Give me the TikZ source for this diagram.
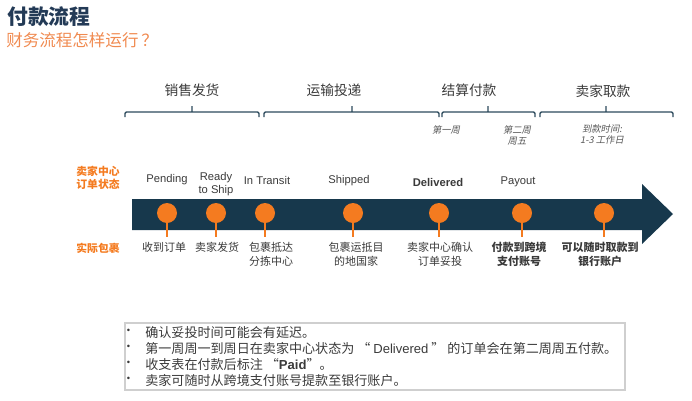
\documentclass[tikz,border=0pt]{standalone}
\usepackage{fontspec}
\setmainfont{Noto Sans CJK SC}
\newfontfamily\lat{Liberation Sans}
\newfontfamily\cjkit[FakeSlant=0.2]{Noto Sans CJK SC}
\usetikzlibrary{positioning}
\definecolor{bandnavy}{HTML}{17384C}
\definecolor{titlenavy}{HTML}{233A56}
\definecolor{payorange}{HTML}{F47B20}
\definecolor{suborange}{HTML}{F08A50}
\definecolor{brkteal}{HTML}{2C4A5C}
\definecolor{txtgray}{HTML}{3A3A3A}
\definecolor{boxgray}{HTML}{CFCFCF}
\newcommand{\bul}{\makebox[14.3pt][l]{\hspace{0.5pt}\raisebox{0.55ex}{\lat\scriptsize\textbullet}}}

\begin{document}
\begin{tikzpicture}[x=0.75pt, y=-0.75pt,
    lbl/.style={inner sep=0pt, align=center, text=txtgray},
    phase/.style={lbl, font=\fontsize{10.3}{12}\selectfont},
    status/.style={lbl, font=\lat\fontsize{8.4}{9.75}\selectfont},
    pkg/.style={lbl, font=\fontsize{8.25}{10.5}\selectfont},
    side/.style={lbl, text=payorange, font=\bfseries\fontsize{8.1}{9.75}\selectfont},
    when/.style={lbl, text=txtgray!85, font=\cjkit\fontsize{7}{8.25}\selectfont},
    dot/.style={circle, fill=payorange, minimum size=15pt, inner sep=0pt},
    stem/.style={draw=payorange, line width=1.5pt},
    brk/.style={draw=brkteal, line width=1.1pt, rounded corners=1pt}
  ]
  \useasboundingbox (0,0) rectangle (692,400);

  % title
  \node[anchor=west, inner sep=0pt, text=titlenavy, font=\bfseries\fontsize{15.6}{18}\selectfont] (title) at (7,17) {付款流程};
  \node[anchor=west, inner sep=0pt, text=suborange, font=\fontsize{12.4}{15}\selectfont] (subtitle) at (6,40) {财务流程怎样运行\,？};

  % phases
  \node[phase] (sales) at (192,90) {销售发货};
  \node[phase] (ship-ph) at (334,90) {运输投递};
  \node[phase] (settle) at (469,90) {结算付款};
  \node[phase] (withdraw) at (603,91) {卖家取款};

  \draw[brk] (125,117) -- (125,112) -- (259,112) -- (259,117) (192,112) -- (192,106);
  \draw[brk] (264,117) -- (264,112) -- (439,112) -- (439,117) (352,112) -- (352,106);
  \draw[brk] (442,117) -- (442,112) -- (535,112) -- (535,117) (488,112) -- (488,106);
  \draw[brk] (540,117) -- (540,112) -- (673,112) -- (673,117) (606,112) -- (606,106);

  \node[when] (wk1) at (446,130) {第一周};
  \node[when] (wk2) at (517,135) {第二周\\周五};
  \node[when] (days) at (602,134) {到款时间:\\1-3 工作日};

  % timeline arrow
  \fill[bandnavy] (132,199) -- (642,199) -- (642,184) -- (673,214) -- (642,244) -- (642,230) -- (132,230) -- cycle;

  \node[side] (side-st) at (98,178) {卖家中心\\订单状态};
  \node[side] (side-pk) at (98,248) {实际包裹};

  \node[status] (st-pend) at (167,180) {Pending};
  \node[status] (st-ready) at (216,184) {Ready\\to Ship};
  \node[status] (st-trans) at (267,180) {In Transit};
  \node[status] (st-ship) at (349,181) {Shipped};
  \node[status, font=\lat\bfseries\fontsize{8.4}{9.75}\selectfont] (st-deliv) at (438,182) {Delivered};
  \node[status] (st-pay) at (518,182) {Payout};

  \node[dot] (pend) at (167,213) {};
  \node[dot] (ready) at (216,213) {};
  \node[dot] (trans) at (265,213) {};
  \node[dot] (ship) at (353,213) {};
  \node[dot] (deliv) at (439,213) {};
  \node[dot] (pay) at (522,213) {};
  \node[dot] (cash) at (604,213) {};

  \coordinate (pend-s) at (167,237);
  \coordinate (ready-s) at (216,237);
  \coordinate (trans-s) at (265,237);
  \coordinate (ship-s) at (353,237);
  \coordinate (deliv-s) at (439,237);
  \coordinate (pay-s) at (522,237);
  \coordinate (cash-s) at (604,237);
  \draw[stem] (pend) -- (pend-s);
  \draw[stem] (ready) -- (ready-s);
  \draw[stem] (trans) -- (trans-s);
  \draw[stem] (ship) -- (ship-s);
  \draw[stem] (deliv) -- (deliv-s);
  \draw[stem] (pay) -- (pay-s);
  \draw[stem] (cash) -- (cash-s);

  \node[pkg, anchor=north] (pk-pend) at (164,242) {收到订单};
  \node[pkg, anchor=north] (pk-ready) at (217,242) {卖家发货};
  \node[pkg, anchor=north] (pk-trans) at (271,242) {包裹抵达\\分拣中心};
  \node[pkg, anchor=north] (pk-ship) at (356,242) {包裹运抵目\\的地国家};
  \node[pkg, anchor=north] (pk-deliv) at (440,242) {卖家中心确认\\订单妥投};
  \node[pkg, anchor=north, font=\bfseries\fontsize{8.25}{10.5}\selectfont] (pk-pay) at (519,242) {付款到跨境\\支付账号};
  \node[pkg, anchor=north, font=\bfseries\fontsize{8.25}{10.5}\selectfont] (pk-cash) at (600,242) {可以随时取款到\\银行账户};

  % notes
  \draw[boxgray, line width=0.8pt] (125,323) rectangle (625,390);
  \node[lbl, anchor=north west, align=left, font=\fontsize{9.8}{12}\selectfont] (notes) at (126,326) {%
    \bul 确认妥投时间可能会有延迟。\\
    \bul 第一周周一到周日在卖家中心状态为 “ {\lat Delivered} ” 的订单会在第二周周五付款。\\
    \bul 收支表在付款后标注 “{\lat\bfseries Paid}”。\\
    \bul 卖家可随时从跨境支付账号提款至银行账户。};
\end{tikzpicture}
\end{document}
